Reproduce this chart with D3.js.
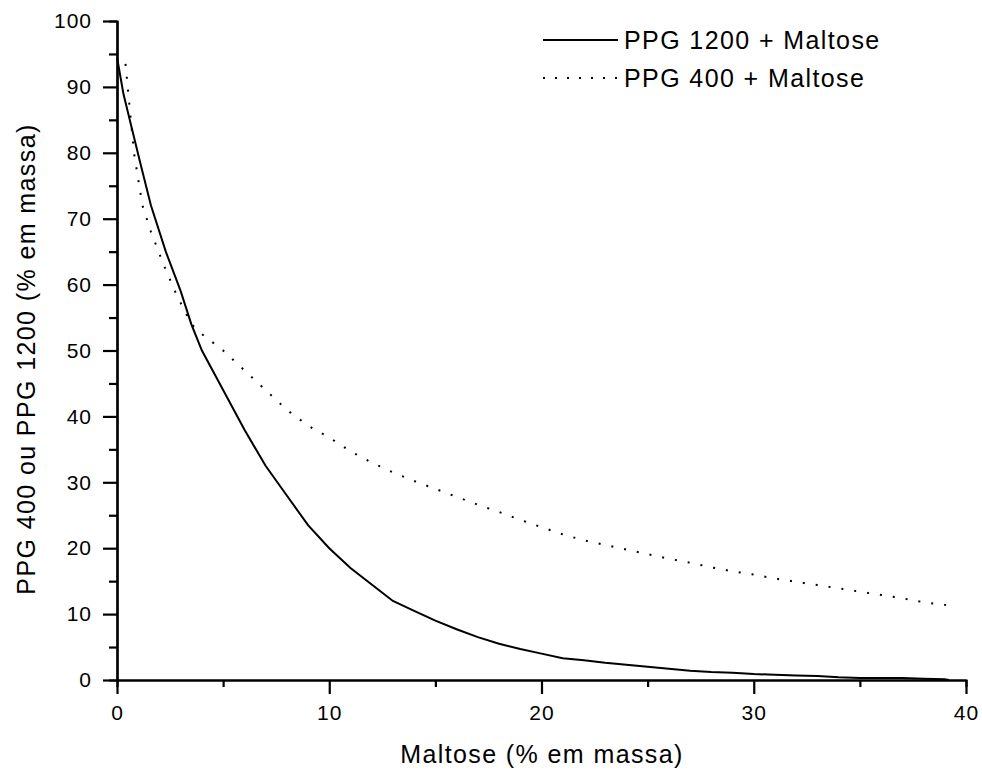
<!DOCTYPE html>
<html lang="pt">
<head>
<meta charset="UTF-8">
<script src="https://d3js.org/d3.v7.min.js"></script>
<style>
  body { margin: 0; background: #fff; }
  svg text { font-family: "Liberation Sans", Arial, sans-serif; fill: #000; }
</style>
</head>
<body>
<svg id="chart" width="982" height="772"></svg>
<script>
// PPG 1200 + Maltose (solid)
const maltose1200 = [0, 0.3, 0.6, 1.1, 1.6, 2.3, 3, 3.5, 4, 4.5, 5, 6, 7, 8, 9, 10, 11, 12, 13, 14, 15, 16, 17, 18, 19, 20,
  21, 22, 23, 24, 25, 26, 27, 28, 29, 30, 31, 32, 33, 34, 35, 36, 37, 38, 39, 39.2];
const ppg1200 = [94.5, 89, 85, 78.4, 72, 65, 59, 54, 50, 47, 44, 38, 32.5, 28, 23.5, 20, 17, 14.5, 12, 10.5, 9, 7.7, 6.5, 5.5, 4.7, 4,
  3.3, 3, 2.6, 2.3, 2.0, 1.7, 1.4, 1.2, 1.1, 0.9, 0.8, 0.7, 0.6, 0.4, 0.3, 0.3, 0.3, 0.2, 0.1, 0];

// PPG 400 + Maltose (dotted)
const maltose400 = [0.4, 0.8, 1.2, 1.6, 2.2, 2.8, 3.5, 4, 5, 6, 7, 8, 9, 10, 11, 12, 13, 14, 15, 16, 17, 18, 19, 20,
  21, 22, 23, 24, 25, 26, 27, 28, 29, 30, 31, 32, 33, 34, 35, 36, 37, 38, 39, 39.5];
const ppg400 = [93.5, 80, 72, 68, 63, 58.5, 54, 52.5, 50, 47, 44, 41, 38.6, 36.8, 34.7, 33, 31.5, 30.2, 29, 27.8, 26.6, 25.5, 24.3, 23.2,
  22.1, 21.2, 20.5, 19.8, 19.1, 18.4, 17.8, 17.1, 16.5, 16, 15.4, 14.9, 14.4, 13.9, 13.4, 12.9, 12.4, 11.8, 11.4, 11.2];

const seriesNames = ['PPG 1200 + Maltose', 'PPG 400 + Maltose'];
const xTicks = [0, 10, 20, 30, 40];
const yTicks = [0, 10, 20, 30, 40, 50, 60, 70, 80, 90, 100];

const svg = d3.select('#chart');
const margin = { top: 21, right: 16, bottom: 92, left: 117 };
const width = +svg.attr('width');
const height = +svg.attr('height');
const innerWidth = width - margin.left - margin.right;
const innerHeight = height - margin.top - margin.bottom;

const x = d3.scaleLinear().domain([0, 40]).range([0, innerWidth]);
const y = d3.scaleLinear().domain([0, 100]).range([innerHeight, 0]);

const g = svg.append('g').attr('transform', `translate(${margin.left},${margin.top})`);

// minor ticks (no labels)
const xMinor = d3.axisBottom(x).tickValues(d3.range(5, 40, 10)).tickSize(7);
const yMinor = d3.axisLeft(y).tickValues(d3.range(5, 100, 10)).tickSize(8);
g.append('g').attr('class', 'axis').attr('transform', `translate(0,${innerHeight})`).call(xMinor)
  .selectAll('text').remove();
g.append('g').attr('class', 'axis').call(yMinor)
  .selectAll('text').remove();

const xAxis = d3.axisBottom(x).tickValues(xTicks).tickSize(14).tickSizeOuter(0).tickPadding(11);
const yAxis = d3.axisLeft(y).tickValues(yTicks).tickSize(14).tickSizeOuter(0).tickPadding(11);
g.append('g').attr('class', 'axis').attr('transform', `translate(0,${innerHeight})`).call(xAxis);
g.append('g').attr('class', 'axis').call(yAxis);

g.selectAll('.axis path, .axis line').attr('stroke', '#000').attr('stroke-width', 2.2);
g.selectAll('.axis .tick text')
  .attr('font-size', '21px').attr('letter-spacing', '1px').attr('fill', '#000');

const line = d3.line().x(d => x(d[0])).y(d => y(d[1]));

g.append('path')
  .datum(maltose1200.map((m, i) => [m, ppg1200[i]]))
  .attr('fill', 'none').attr('stroke', '#000').attr('stroke-width', 2)
  .attr('d', line);

g.append('path')
  .datum(maltose400.map((m, i) => [m, ppg400[i]]))
  .attr('fill', 'none').attr('stroke', '#000').attr('stroke-width', 2)
  .attr('stroke-dasharray', '2,11')
  .attr('d', line);

// axis titles
svg.append('text')
  .attr('x', 542)
  .attr('y', 763)
  .attr('text-anchor', 'middle')
  .attr('font-size', '25px')
  .attr('letter-spacing', '1.4px')
  .text('Maltose (% em massa)');

svg.append('text')
  .attr('transform', `translate(35,359) rotate(-90)`)
  .attr('text-anchor', 'middle')
  .attr('font-size', '25px')
  .attr('letter-spacing', '1.4px')
  .text('PPG 400 ou PPG 1200 (% em massa)');

// legend
const legend = svg.append('g').attr('transform', 'translate(543,40)');
seriesNames.forEach((name, i) => {
  const row = legend.append('g').attr('transform', `translate(0,${i * 38})`);
  row.append('line')
    .attr('x1', 0).attr('x2', 75).attr('y1', 0).attr('y2', 0)
    .attr('stroke', '#000').attr('stroke-width', 2)
    .attr('stroke-dasharray', i === 0 ? null : '2,10');
  row.append('text')
    .attr('x', 81).attr('y', 9)
    .attr('font-size', '25px')
    .attr('letter-spacing', '1.4px')
    .text(name);
});
</script>
</body>
</html>
